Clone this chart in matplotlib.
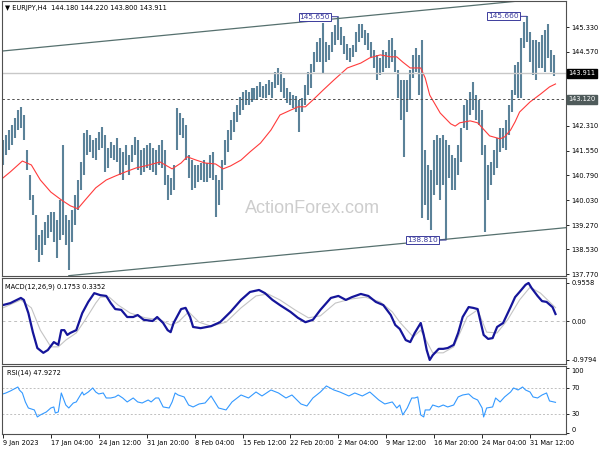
import numpy as np
import matplotlib.pyplot as plt
from matplotlib.transforms import blended_transform_factory

plt.rcParams['font.family'] = ['DejaVu Sans']
fs = 4.8

# ---- EURJPY H4 price bars (every second bar) ----
bar_idx = np.arange(0, 370, 2)
highs = [
    141.88, 142.03, 142.18, 142.33, 142.55, 142.79, 142.89, 142.64, 141.57, 140.80,
    140.19, 139.58, 138.97, 139.12, 139.37, 139.58, 139.67, 139.67, 139.43, 140.04,
    141.72, 139.58, 139.43, 139.73, 140.19, 140.65, 141.20, 142.09, 142.18, 142.03,
    141.88, 141.94, 142.12, 142.27, 142.03, 141.63, 141.81, 141.72, 141.94, 141.63,
    141.51, 141.72, 141.42, 141.72, 141.97, 141.88, 141.57, 141.63, 141.72, 141.78,
    141.63, 141.57, 141.72, 141.88, 141.57, 140.80, 140.71, 141.11, 142.86, 142.70,
    142.55, 142.33, 141.42, 141.26, 141.11, 141.11, 141.17, 141.26, 141.17, 141.42,
    141.51, 140.80, 140.65, 141.26, 141.88, 142.18, 142.49, 142.73, 142.95, 143.19,
    143.34, 143.41, 143.34, 143.47, 143.47, 143.53, 143.65, 143.53, 143.59, 143.71,
    143.65, 143.96, 144.08, 143.96, 143.77, 143.47, 143.34, 143.25, 143.22, 143.10,
    143.16, 143.56, 143.96, 144.20, 144.57, 144.87, 145.00, 145.45, 144.87, 144.78,
    145.18, 145.39, 145.65, 145.33, 145.06, 144.81, 144.69, 144.78, 145.18, 145.43,
    145.43, 145.24, 145.15, 144.87, 144.63, 144.48, 144.39, 144.63, 144.57, 144.94,
    145.00, 144.63, 144.02, 143.71, 143.71, 143.71, 144.02, 144.48, 144.69, 144.48,
    144.94, 141.57, 141.11, 140.96, 141.88, 142.03, 141.94, 142.03, 141.88, 141.72,
    141.42, 141.33, 141.72, 142.24, 142.95, 143.10, 143.34, 143.65, 143.25, 143.10,
    142.79, 141.72, 141.11, 141.20, 141.57, 141.94, 142.24, 142.24, 142.49, 142.95,
    143.41, 144.17, 144.26, 145.00, 145.49, 145.66, 145.18, 144.94, 144.94, 144.87,
    145.09, 145.24, 145.43, 144.63, 144.48,
]
lows = [
    141.11, 141.42, 141.57, 141.72, 141.94, 142.18, 142.24, 141.88, 140.96, 140.04,
    139.58, 138.51, 138.14, 138.36, 138.66, 138.88, 139.06, 138.75, 138.27, 138.82,
    138.97, 138.66, 137.90, 138.75, 139.27, 139.73, 140.35, 140.80, 141.42, 141.51,
    141.33, 141.26, 141.57, 141.63, 140.90, 141.02, 141.33, 141.26, 141.20, 140.80,
    140.65, 141.11, 140.80, 141.20, 141.42, 140.96, 140.80, 140.90, 141.02, 140.96,
    140.90, 140.80, 141.11, 141.02, 140.50, 140.04, 140.19, 140.35, 141.57, 142.03,
    141.94, 141.26, 140.71, 140.35, 140.41, 140.59, 140.65, 140.59, 140.59, 140.71,
    140.65, 139.52, 139.89, 140.35, 141.11, 141.51, 141.88, 142.12, 142.43, 142.64,
    142.79, 142.95, 142.95, 143.04, 143.10, 143.10, 143.19, 143.16, 143.16, 143.25,
    143.16, 143.47, 143.56, 143.34, 143.16, 143.01, 142.95, 142.86, 142.73, 142.12,
    142.73, 142.95, 143.25, 143.47, 143.96, 144.26, 144.26, 143.93, 144.26, 144.32,
    144.57, 144.78, 144.94, 144.78, 144.51, 144.32, 144.26, 144.42, 144.57, 144.87,
    145.00, 144.78, 144.63, 144.42, 144.08, 143.71, 143.86, 143.96, 144.08, 144.08,
    144.26, 143.96, 143.16, 142.49, 141.36, 142.73, 143.10, 143.77, 143.96, 143.25,
    139.49, 139.89, 139.43, 139.12, 140.19, 140.50, 140.04, 140.50, 138.81, 140.71,
    140.35, 140.35, 140.80, 141.20, 142.24, 142.18, 142.64, 142.79, 142.49, 142.33,
    141.42, 139.05, 140.04, 140.50, 140.80, 141.02, 141.51, 141.63, 141.57, 142.03,
    142.73, 143.25, 143.16, 143.16, 144.69, 144.87, 144.26, 143.86, 143.71, 144.08,
    144.08, 143.96, 144.39, 143.96, 143.83,
]

# moving average (red)
ma_bar = [0, 5, 13, 19, 25, 32, 39, 45, 50, 55, 62, 69, 75, 82, 89, 95, 105, 113, 119,
          123, 129, 135, 142, 147, 152, 159, 165, 172, 179, 185, 197, 202, 207, 214, 221,
          230, 239, 245, 252, 259, 263, 267, 272, 279, 282, 285, 292, 299, 302, 305, 312,
          317, 322, 325, 332, 335, 339, 342, 345, 352, 359, 365, 369]
ma_val = [140.71, 140.90, 141.23, 141.11, 140.65, 140.28, 140.04, 139.86, 139.77, 140.04,
          140.41, 140.65, 140.77, 140.90, 141.02, 141.08, 141.20, 140.99, 141.17, 141.36,
          141.26, 141.17, 141.14, 140.99, 141.08, 141.26, 141.51, 141.78, 142.18, 142.64,
          142.89, 142.89, 143.10, 143.41, 143.71, 144.08, 144.23, 144.39, 144.48, 144.42,
          144.42, 144.26, 144.08, 144.08, 143.77, 143.25, 142.70, 142.37, 142.30, 142.40,
          142.46, 142.40, 142.15, 142.00, 141.91, 141.97, 142.18, 142.43, 142.73, 143.04,
          143.28, 143.50, 143.59]

# channel trend lines (bar, price)
upper_line = ([0, 376], [144.60, 146.27])
lower_line = ([44, 376], [137.72, 139.19])

last_price = 143.911
level_line = 143.120
header = "\u25bc EURJPY,H4  144.180 144.220 143.800 143.911"
price_ticks = [145.330, 144.570, 142.310, 141.550, 140.790, 140.030, 139.270, 138.530, 137.770]
marks = [(224, 145.650, '145.650'), (350, 145.660, '145.660'), (296, 138.810, '138.810')]

# MACD(12,26,9)
macd_bar = [0, 5, 12, 14, 17, 20, 23, 27, 30, 34, 37, 39, 41, 43, 45, 49, 53, 57, 61, 65,
            69, 72, 75, 79, 83, 87, 90, 94, 100, 103, 107, 110, 112, 114, 119, 122, 125, 127,
            132, 139, 145, 152, 159, 165, 171, 175, 180, 185, 192, 197, 202, 207, 212, 219,
            224, 229, 233, 239, 244, 249, 254, 259, 262, 265, 269, 272, 275, 279, 281, 283,
            285, 287, 291, 294, 297, 301, 304, 307, 311, 314, 317, 321, 324, 327, 330, 334,
            339, 342, 345, 349, 351, 353, 357, 360, 363, 367, 369]
macd_main = [0.40, 0.45, 0.58, 0.53, 0.20, -0.28, -0.68, -0.80, -0.73, -0.53, -0.60, -0.23,
             -0.23, -0.35, -0.30, -0.23, 0.20, 0.48, 0.70, 0.65, 0.63, 0.45, 0.30, 0.28, 0.10,
             0.10, 0.15, 0.03, 0.00, 0.10, -0.05, -0.23, -0.28, -0.05, 0.30, 0.33, 0.10, -0.15,
             -0.18, -0.13, -0.03, 0.23, 0.53, 0.73, 0.78, 0.70, 0.53, 0.40, 0.23, 0.08, -0.03,
             0.03, 0.28, 0.58, 0.63, 0.53, 0.60, 0.68, 0.63, 0.48, 0.40, 0.15, -0.10, -0.20,
             -0.48, -0.53, -0.30, -0.05, -0.35, -0.73, -0.9794, -0.86, -0.70, -0.70, -0.68,
             -0.60, -0.30, 0.10, 0.35, 0.33, 0.30, -0.35, -0.45, -0.43, -0.15, -0.05, 0.35,
             0.60, 0.73, 0.91, 0.9558, 0.83, 0.63, 0.50, 0.48, 0.35, 0.1753]
sig_bar = [0, 12, 19, 25, 32, 37, 42, 49, 55, 62, 65, 71, 77, 85, 95, 105, 112, 117, 124,
           131, 139, 149, 159, 169, 177, 185, 195, 204, 212, 222, 232, 242, 252, 260, 265,
           274, 279, 287, 294, 301, 310, 317, 323, 330, 337, 345, 352, 359, 369]
sig_val = [0.33, 0.53, 0.33, -0.23, -0.65, -0.65, -0.48, -0.30, 0.03, 0.45, 0.60, 0.60,
           0.40, 0.20, 0.08, 0.03, -0.10, -0.03, 0.23, -0.03, -0.13, -0.03, 0.33, 0.63, 0.68,
           0.53, 0.28, 0.08, 0.13, 0.45, 0.55, 0.60, 0.48, 0.23, -0.03, -0.40, -0.23, -0.80,
           -0.80, -0.65, 0.10, 0.28, -0.28, -0.30, 0.03, 0.53, 0.85, 0.70, 0.3352]

# RSI(14)
rsi_bar = [0, 2, 5, 10, 11, 13, 15, 17, 21, 23, 25, 29, 32, 34, 35, 37, 39, 40, 42, 44, 47,
           49, 51, 53, 54, 57, 60, 62, 64, 67, 69, 72, 75, 77, 80, 83, 87, 90, 93, 97, 99,
           102, 104, 107, 111, 113, 115, 117, 121, 124, 127, 131, 135, 139, 144, 149, 153,
           159, 164, 169, 173, 179, 184, 189, 193, 199, 203, 207, 212, 216, 221, 225, 231,
           235, 240, 245, 251, 255, 260, 263, 265, 267, 270, 273, 275, 277, 279, 281, 282,
           285, 287, 291, 294, 297, 301, 304, 307, 311, 314, 317, 320, 321, 323, 327, 329,
           332, 335, 339, 341, 344, 347, 349, 352, 354, 357, 360, 363, 365, 369]
rsi_val = [60.8, 62.3, 65.4, 71.5, 66.9, 62.3, 48.5, 39.2, 36.2, 25.4, 28.5, 33.1, 39.2,
           40.8, 31.5, 33.1, 62.3, 56.2, 43.8, 39.2, 46.9, 48.5, 56.2, 63.8, 59.2, 63.8, 70.0,
           63.8, 60.8, 62.3, 54.6, 54.6, 56.2, 59.2, 54.6, 48.5, 54.6, 48.5, 46.9, 51.5, 48.5,
           54.6, 54.6, 40.8, 39.2, 48.5, 62.3, 59.2, 56.2, 43.8, 40.8, 45.4, 46.9, 57.7, 39.2,
           36.2, 48.5, 59.2, 54.6, 63.8, 57.7, 66.9, 62.3, 54.6, 59.2, 45.4, 42.3, 54.6, 63.8,
           73.1, 66.9, 63.8, 57.7, 62.3, 57.7, 63.8, 51.5, 45.4, 48.5, 39.2, 43.8, 28.5, 39.2,
           54.6, 54.6, 56.2, 28.5, 25.4, 36.2, 36.2, 43.8, 40.8, 43.8, 40.8, 43.8, 56.2, 59.2,
           60.8, 54.6, 51.5, 39.2, 25.4, 39.2, 40.8, 54.6, 48.5, 56.2, 63.8, 70.0, 66.9, 71.5,
           66.9, 63.8, 56.2, 54.6, 59.2, 62.3, 50.0, 47.9]

date_bars = [0, 32, 64, 96, 128, 160, 192, 224, 256, 288, 320, 352]
date_labels = ['9 Jan 2023', '17 Jan 04:00', '24 Jan 12:00', '31 Jan 20:00', '8 Feb 04:00',
               '15 Feb 12:00', '22 Feb 20:00', '2 Mar 04:00', '9 Mar 12:00', '16 Mar 20:00',
               '24 Mar 04:00', '31 Mar 12:00']

# ---- figure ----
fig = plt.figure(figsize=(6, 4.5), dpi=100)
L, W = 2 / 600, 564 / 600
ax = fig.add_axes([L, 1 - 276 / 450, W, 275 / 450])
ax_m = fig.add_axes([L, 1 - 364 / 450, W, 86 / 450], sharex=ax)
ax_r = fig.add_axes([L, 1 - 434 / 450, W, 68 / 450], sharex=ax)

for a in (ax, ax_m, ax_r):
    a.yaxis.tick_right()
    a.tick_params(axis='y', length=2.5, width=0.6, pad=1.5, labelsize=fs, colors='black')
    for s in a.spines.values():
        s.set_color('#505050')
        s.set_linewidth(0.8)
ax.tick_params(axis='x', bottom=False, labelbottom=False)
ax_m.tick_params(axis='x', bottom=False, labelbottom=False)

# main panel
ax.vlines(bar_idx, lows, highs, color='#5b8299', lw=1.5)
ax.plot(ma_bar, ma_val, color='#ff3b3b', lw=0.8)
ax.plot(*upper_line, color='#56706e', lw=0.9)
ax.plot(*lower_line, color='#56706e', lw=0.9)
ax.axhline(last_price, color='#c8c8c8', lw=1.0)
ax.axhline(level_line, color='#505050', lw=0.7, ls=(0, (2.5, 2.5)))
ax.set_xlim(-0.6, 376)
ax.set_ylim(137.71, 146.13)
ax.set_yticks(price_ticks)
ax.set_yticklabels(['%.3f' % p for p in price_ticks])

tr = blended_transform_factory(ax.transAxes, ax.transData)
ax.text(1.004, last_price, '%.3f' % last_price, transform=tr, fontsize=fs, color='white',
        va='center', ha='left', clip_on=False,
        bbox=dict(boxstyle='square,pad=0.25', fc='black', ec='black'))
ax.text(1.004, level_line, '%.3f' % level_line, transform=tr, fontsize=fs, color='white',
        va='center', ha='left', clip_on=False,
        bbox=dict(boxstyle='square,pad=0.25', fc='#4f5b5b', ec='#4f5b5b'))

for b, p, t in marks:
    ax.annotate(t, xy=(b, p), xytext=(-6, 0), textcoords='offset points', ha='right',
                va='center', fontsize=fs + 0.6, color='#3c3c9c',
                bbox=dict(boxstyle='square,pad=0.12', fc='white', ec='#3c3c9c', lw=0.7),
                arrowprops=dict(arrowstyle='-', color='#3c3c9c', lw=0.7, shrinkA=0, shrinkB=0))

ax.text(0.55, 0.245, 'ActionForex.com', transform=ax.transAxes, fontsize=13,
        family='Liberation Sans', color='#cdcdcd', ha='center', va='center')
fig.text(5 / 600, 1 - 8 / 450, header, fontsize=fs, va='center', ha='left')

# MACD panel
ax_m.axhline(0, color='#c0c0c0', lw=0.7, ls=(0, (3, 3)))
ax_m.plot(sig_bar, sig_val, color='#c4c4c4', lw=0.8)
ax_m.plot(macd_bar, macd_main, color='#15159a', lw=1.6)
ax_m.set_ylim(-1.081, 1.081)
ax_m.set_yticks([0.9558, 0.0, -0.9794])
ax_m.set_yticklabels(['0.9558', '0.00', '-0.9794'])
ax_m.text(0.006, 0.9, 'MACD(12,26,9) 0.1753 0.3352', transform=ax_m.transAxes,
          fontsize=fs, va='center', ha='left')

# RSI panel
for lv in (70, 30):
    ax_r.axhline(lv, color='#c0c0c0', lw=0.7, ls=(0, (2, 2)))
ax_r.plot(rsi_bar, rsi_val, color='#3399ff', lw=0.8)
ax_r.set_ylim(-0.8, 103.8)
ax_r.set_yticks([100, 70, 30, 0])
ax_r.set_yticklabels(['100', '70', '30', '0'])
ylbl = ax_r.get_yticklabels()
ylbl[0].set_va('top')
ylbl[3].set_va('bottom')
ax_r.text(0.008, 0.9, 'RSI(14) 47.9272', transform=ax_r.transAxes,
          fontsize=fs, va='center', ha='left')
ax_r.set_xticks(date_bars)
ax_r.set_xticklabels(date_labels)
ax_r.tick_params(axis='x', length=3, width=0.6, pad=1.5, labelsize=fs)
for lbl in ax_r.get_xticklabels():
    lbl.set_ha('left')

fig.savefig('out.png', dpi=100)
